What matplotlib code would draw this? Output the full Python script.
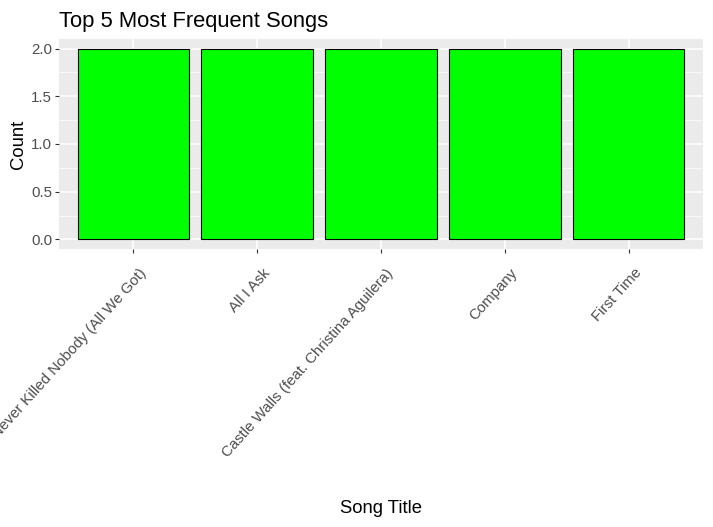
import matplotlib.pyplot as plt
import matplotlib.transforms as mtransforms
from matplotlib.ticker import MultipleLocator

plt.rcParams['font.family'] = ['Liberation Sans', 'DejaVu Sans']

songs = ['Never Killed Nobody (All We Got)', 'All I Ask',
         'Castle Walls (feat. Christina Aguilera)', 'Company', 'First Time']
counts = [2, 2, 2, 2, 2]

fig = plt.figure(figsize=(7.13, 5.27), dpi=100)
ax = fig.add_axes([59 / 713, 1 - 249 / 527, 644 / 713, 210 / 527])
ax.set_facecolor('#EBEBEB')

pos = list(range(1, len(songs) + 1))
ax.bar(pos, counts, width=0.9, color='#00FF00', edgecolor='black', linewidth=0.8, zorder=3)

ax.set_xlim(0.4, len(songs) + 0.6)
ax.set_ylim(-0.1, 2.1)
ax.yaxis.set_major_locator(MultipleLocator(0.5))
ax.yaxis.set_minor_locator(MultipleLocator(0.25))
ax.set_xticks(pos)
ax.set_xticklabels(songs, rotation=48, ha='right', va='top', rotation_mode='anchor')
ax.set_yticks([0, 0.5, 1.0, 1.5, 2.0])
ax.set_yticklabels(['0.0', '0.5', '1.0', '1.5', '2.0'])

ax.grid(which='major', color='white', linewidth=1.1, zorder=0)
ax.grid(which='minor', axis='y', color='white', linewidth=0.5, zorder=0)
ax.tick_params(axis='both', which='major', length=3, width=0.8, color='#333333',
               labelcolor='#4D4D4D', labelsize=10.8, pad=2)
ax.tick_params(axis='y', which='minor', length=0)
for s in ax.spines.values():
    s.set_visible(False)

# nudge rotated labels like ggplot's hjust/vjust
shift = mtransforms.ScaledTranslation(5 / 100, -10 / 100, fig.dpi_scale_trans)
for lbl in ax.get_xticklabels():
    lbl.set_transform(lbl.get_transform() + shift)

ax.set_xlabel('Song Title', fontsize=13.3)
ax.xaxis.label.set_va('center')
ax.xaxis.set_label_coords(0.5, -(509 - 249) / 210)
ax.set_ylabel('Count', fontsize=13.3)
ax.yaxis.label.set_va('center')
ax.yaxis.set_label_coords(-(59 - 18) / 644, 0.5)

fig.text(59 / 713, 1 - 27 / 527, 'Top 5 Most Frequent Songs', fontsize=15.8,
         ha='left', va='baseline')

fig.savefig('out.png', dpi=100)
